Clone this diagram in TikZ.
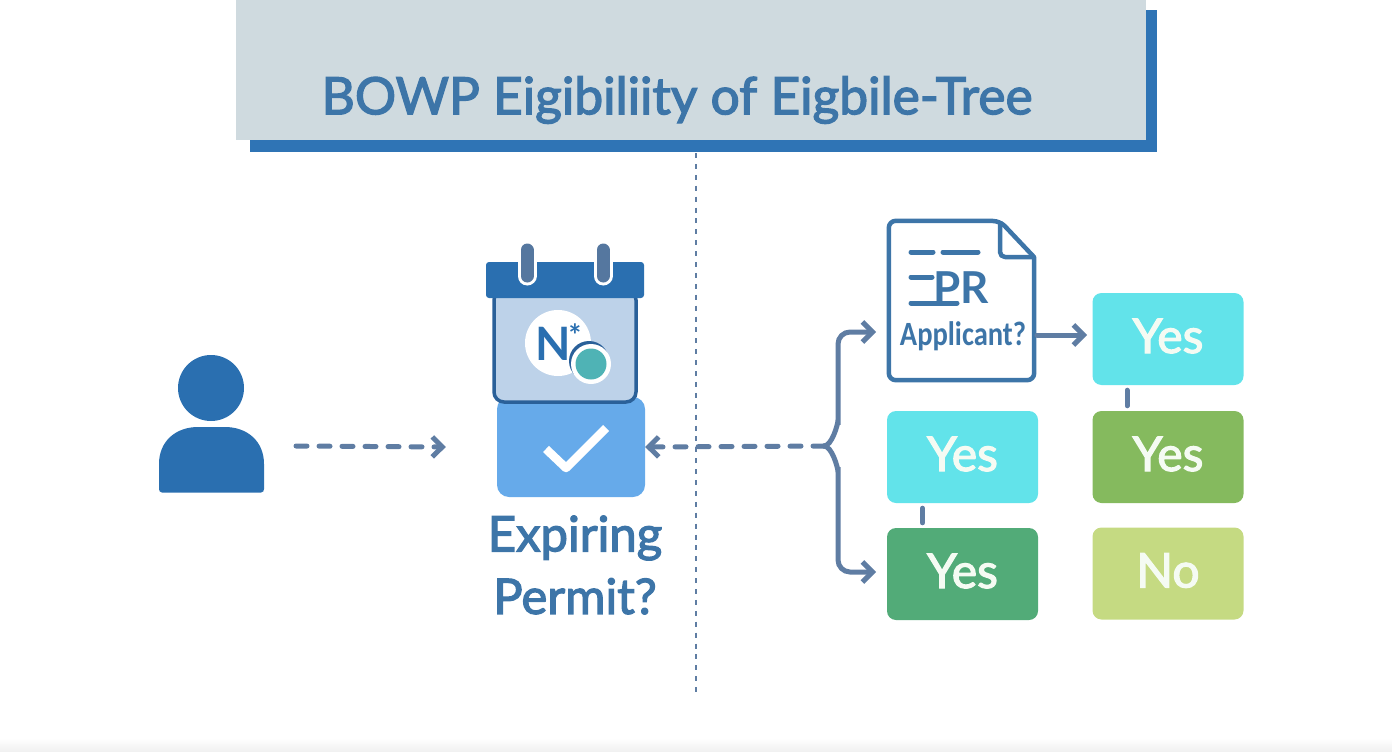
\documentclass[tikz,border=0pt]{standalone}
\usepackage{fontspec}
\setmainfont{Lato}
\newfontfamily\medfont[FakeBold=2.5]{Lato}
\newfontfamily\narrowfont{Carlito}
\usetikzlibrary{arrows.meta}
\definecolor{hdrgrey}{HTML}{CFDADF}
\definecolor{hdrblue}{HTML}{2F74B5}
\definecolor{inkblue}{HTML}{3D75A8}
\definecolor{linkblue}{HTML}{5F7DA3}
\definecolor{userblue}{HTML}{2A6FB0}
\definecolor{calpage}{HTML}{BDD2E9}
\definecolor{calrim}{HTML}{2A6099}
\definecolor{calring}{HTML}{55779F}
\definecolor{chkblue}{HTML}{66AAEA}
\definecolor{dotteal}{HTML}{4FB3B5}
\definecolor{ansaqua}{HTML}{62E3EA}
\definecolor{ansleaf}{HTML}{85BA5E}
\definecolor{ansgreen}{HTML}{52AB78}
\definecolor{anslime}{HTML}{C5DA82}
\definecolor{anstext}{HTML}{F5FBF3}
\tikzset{
    ansbox/.style={rounded corners=9pt,minimum width=151pt,minimum height=92pt,
                   inner sep=0pt,text=anstext,text height=33pt,text depth=5pt,
                   font=\medfont\fontsize{48}{50}\selectfont},
    flow/.style={linkblue,line width=5pt,line cap=round,
                 -{Straight Barb[length=10pt,width=20pt,line width=5pt]}},
    stub/.style={linkblue,line width=5pt,line cap=round,shorten >=5pt,shorten <=5pt},
    docline/.style={inkblue,line width=5pt,line cap=round},
}
\begin{document}
\begin{tikzpicture}[x=1pt,y=-1pt]
    \useasboundingbox (0,0) rectangle (1392,752);
    \shade[top color=white,bottom color=black!6] (0,738) rectangle (1392,752);

    % header
    \fill[hdrblue] (250,10) rectangle (1157,152);
    \fill[hdrgrey] (236,0) rectangle (1146,140);
    \node[text=inkblue,font=\medfont\fontsize{51.5}{58}\selectfont] (title) at (677,100) {BOWP Eigibiliity of Eigbile-Tree};
    \coordinate (hdrfoot) at (696,153);
    \coordinate (axisend) at (696,692);
    \draw[linkblue,line width=2.5pt,dash pattern=on 5pt off 5.9pt] (hdrfoot) -- (axisend);

    % user
    \fill[userblue] (211,388) circle[radius=33];
    \fill[userblue] (162,492.5) .. controls (160,492.5) and (159,491) .. (159,489) -- (159,464)
        .. controls (159,441) and (176,427) .. (198,427) -- (225,427)
        .. controls (247,427) and (264,441) .. (264,464) -- (264,489)
        .. controls (264,491) and (263,492.5) .. (261,492.5) -- cycle;
    \coordinate (userside) at (264,446);

    % check box and calendar
    \node[fill=chkblue,rounded corners=12pt,minimum width=148pt,minimum height=100pt] (chk) at (571,447) {};
    \draw[white,line width=8.5pt,line join=round] (546,449) -- (566,468) -- (606,428);
    \draw[calrim,fill=calpage,line width=3.5pt,rounded corners=10pt] (494,290) rectangle (636,402);
    \fill[userblue,rounded corners=3pt] (486,262) rectangle (644,298);
    \foreach \ringx in {527,603} {
        \draw[white,line width=19pt,line cap=round] (\ringx,251) -- (\ringx,276);
        \draw[calring,line width=13pt,line cap=round] (\ringx,250) -- (\ringx,276);
    }
    \fill[white] (558,343) circle[radius=33];
    \node[text=userblue,font=\fontsize{46}{50}\bfseries\selectfont] (ntext) at (553,344) {N};
    \node[text=userblue,font=\fontsize{30}{32}\bfseries\selectfont] (nstar) at (575,335) {*};
    \fill[calrim] (589,361) circle[radius=20];
    \fill[white] (591,364) circle[radius=20];
    \fill[dotteal] (591,364) circle[radius=15.5];
    \node[text=inkblue,align=center,font=\medfont\fontsize{49}{62.5}\selectfont] (expiring) at (575,565) {Expiring\\Permit?};

    % document
    \node[minimum width=145pt,minimum height=159pt,inner sep=0pt] (doc) at (961.5,300.5) {};
    \draw[inkblue,line width=4.5pt,line join=round,rounded corners=7pt,fill=white]
        (doc.north west) -- (1000,221) [sharp corners] -- (1034,257) [rounded corners=7pt]
        -- (doc.south east) -- (doc.south west) -- cycle;
    \draw[inkblue,line width=4.5pt,line join=round,rounded corners=5pt] (1000,221) -- (1000,257) -- (1034,257);
    \draw[docline] (911,252) -- (933,252);
    \draw[docline] (943,252) -- (978,252);
    \draw[docline] (911,277) -- (932,277);
    \draw[docline] (911,303) -- (957,303);
    \node[text=inkblue,font=\fontsize{44}{50}\bfseries\selectfont] (prtext) at (961,288) {PR};
    \node[text=inkblue,font=\narrowfont\fontsize{34}{36}\bfseries\selectfont] (applicant) at (963,336) {\scalebox{0.84}[1]{Applicant?}};

    % answers
    \node[ansbox,fill=ansaqua] (yesa) at (1168,339) {Yes};
    \node[ansbox,fill=ansaqua] (yesb) at (962.5,457) {Yes};
    \node[ansbox,fill=ansleaf] (yesc) at (1168,457) {Yes};
    \node[ansbox,fill=ansgreen] (yesd) at (962.5,574) {Yes};
    \node[ansbox,fill=anslime] (noa) at (1168,573.5) {No};

    % links
    \coordinate (split) at (824,446);
    \draw[flow,dash pattern=on 11pt off 12pt] ([xshift=32pt]userside) -- ([xshift=-51pt]chk.west);
    \draw[flow,dash pattern=on 11pt off 12pt] (split) -- (chk.east);
    \draw[flow,rounded corners=12pt] (split) to[out=0,in=90] (838,432) -- (838,332) -- (876,332);
    \draw[flow,rounded corners=12pt] (split) to[out=0,in=-90] (838,460) -- (838,572) -- (876,572);
    \draw[flow] (1037,335) -- (1087,335);
    \draw[stub] ([xshift=-41pt]yesc.north) -- ([xshift=-41pt]yesa.south);
    \draw[stub] ([xshift=-40pt]yesd.north) -- ([xshift=-40pt]yesb.south);
\end{tikzpicture}
\end{document}
